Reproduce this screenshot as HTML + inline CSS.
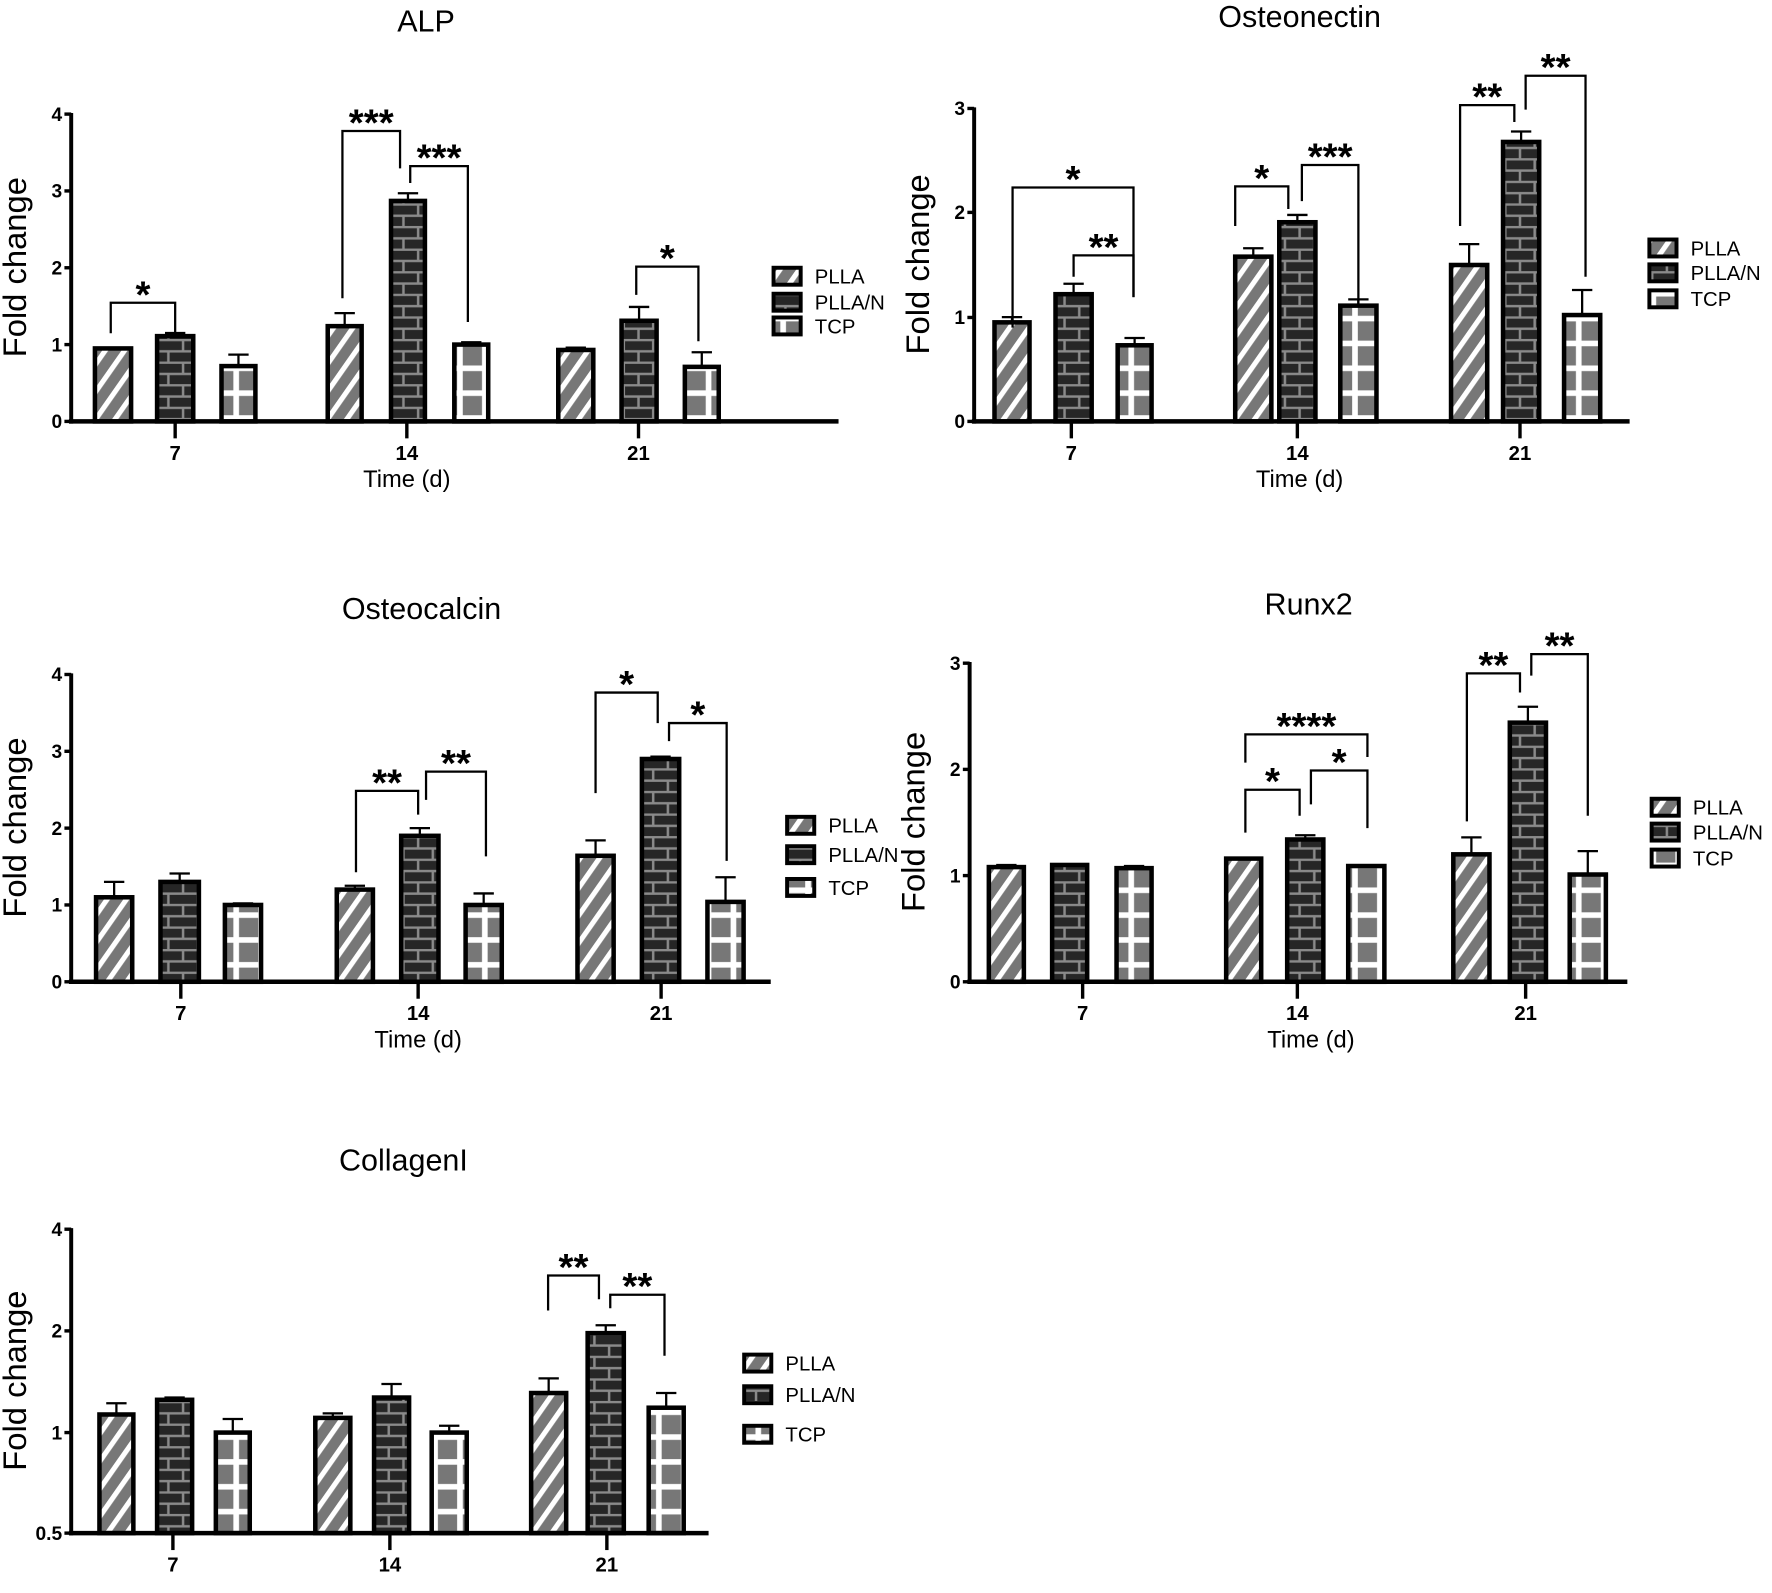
<!DOCTYPE html>
<html><head><meta charset="utf-8"><style>
html,body{margin:0;padding:0;background:#fff;}
svg{display:block;}
text{font-family:"Liberation Sans",Arial,sans-serif;fill:#000;}
</style></head><body>
<svg id="s" width="1772" height="1593" viewBox="0 0 1568 1410" preserveAspectRatio="none" xmlns="http://www.w3.org/2000/svg">
<defs>
<pattern id="diag" patternUnits="userSpaceOnUse" width="14" height="14" patternTransform="rotate(35)">
<rect width="14" height="14" fill="#777"/><rect x="0" width="4.5" height="14" fill="#fff"/></pattern>
<pattern id="brick" patternUnits="userSpaceOnUse" width="26" height="20">
<rect width="26" height="20" fill="#262626"/>
<path d="M0 1H26M0 11H26M6 1V11M19 11V20" stroke="#8a8a8a" stroke-width="2.2" fill="none"/></pattern>
<pattern id="tcp" patternUnits="userSpaceOnUse" width="22" height="22">
<rect width="22" height="22" fill="#777"/>
<path d="M11 0V22M0 18H22" stroke="#fff" stroke-width="5" fill="none"/></pattern>
</defs>
</svg>
<script>
var s=document.getElementById('s');var h='';
function T(x,y,t,sz,extra){h+='<text x="'+x+'" y="'+y+'" font-size="'+sz+'" text-anchor="middle" '+(extra||'')+'>'+t+'</text>';}
function L(d,w){h+='<path d="'+d+'" stroke="#000" stroke-width="'+(w||2)+'" fill="none"/>';}
var fills=['url(#diag)','url(#brick)','url(#tcp)'];
function panel(p){
 T(p.tx,p.ty,p.title,27);
 h+='<text x="0" y="0" font-size="29" text-anchor="middle" transform="translate('+(p.ax-40)+','+((p.y0+p.ytop)/2)+') rotate(-90)">Fold change</text>';
 p.bars.forEach(function(b){
  var x=b[0],w=b[1]-b[0],top=b[2],err=b[3],f=fills[b[4]];
  h+='<rect x="'+(x+2)+'" y="'+top+'" width="'+(w-4)+'" height="'+(p.y0-top)+'" fill="'+f+'" stroke="#000" stroke-width="4"/>';
  var c=x+w/2;
  if(err<top-1){L('M'+c+' '+top+'V'+err+'M'+(c-9)+' '+err+'H'+(c+9),2);}
 });
 L('M'+p.ax+' '+(p.ytop)+'V'+(p.y0+2),3.5);
 L('M'+(p.ax-2)+' '+p.y0+'H'+p.xend,4);
 p.ticks.forEach(function(t){L('M'+(p.ax-6)+' '+t[0]+'H'+p.ax,3);h+='<text x="'+(p.ax-8)+'" y="'+(t[0]+6)+'" font-size="17" font-weight="bold" text-anchor="end">'+t[1]+'</text>';});
 p.groups.forEach(function(g){L('M'+g[0]+' '+p.y0+'V'+(p.y0+15),3);T(g[0],p.y0+34,g[1],18,'font-weight="bold"');});
 if(p.time)T(p.gmid,p.y0+58,'Time (d)',21);
 p.br.forEach(function(b){
  L('M'+b[0]+' '+b[2]+'V'+b[1]+'H'+b[3]+'V'+b[4],2);
  T((b[0]+b[3])/2,b[1]+4,b[5],34,'font-weight="bold"');
 });
 var names=['PLLA','PLLA/N','TCP'];
 p.leg.forEach(function(y,i){
  h+='<rect x="'+(p.lx+1.5)+'" y="'+(y-8)+'" width="24" height="15" fill="'+fills[i]+'" stroke="#000" stroke-width="3.5"/>';
  h+='<text x="'+(p.lx+38)+'" y="'+(y+6)+'" font-size="18">'+names[i]+'</text>';
 });
}
function bars(y0,s,base,spec){return spec.map(function(b){return [b[0],b[1],base(b[2]),base(b[3]),b[4]];});}
var a=function(v){return 373-68*v;};
panel({title:'ALP',tx:377,ty:28,ax:63,y0:373,ytop:100,xend:742,time:1,gmid:360,
 ticks:[[373,0],[305,1],[237,2],[169,3],[101,4]],groups:[[155,'7'],[360,'14'],[565,'21']],
 bars:bars(373,0,a,[[82,118,0.95,0.96,0],[137,173,1.11,1.15,1],[194,228,0.72,0.87,2],[288,322,1.24,1.41,0],[344,378,2.87,2.97,1],[400,434,1.0,1.03,2],[492,527,0.93,0.96,0],[548,583,1.31,1.49,1],[604,638,0.71,0.90,2]]),
 br:[[98,268,295,155,298,'*'],[303,116,264,354,149,'***'],[363,147,162,414,285,'***'],[563,236,261,618,302,'*']],
 leg:[245,268,289],lx:683});
var o=function(v){return 373-92.3*v;};
panel({title:'Osteonectin',tx:1150,ty:24,ax:862,y0:373,ytop:95,xend:1442,time:1,gmid:1150,
 ticks:[[373,0],[281,1],[188,2],[96,3]],groups:[[948,'7'],[1148,'14'],[1345,'21']],
 bars:bars(373,0,o,[[878,913,0.95,1.0,0],[932,968,1.22,1.32,1],[987,1021,0.73,0.80,2],[1091,1127,1.58,1.66,0],[1130,1166,1.91,1.98,1],[1184,1220,1.11,1.17,2],[1282,1318,1.5,1.7,0],[1328,1364,2.68,2.78,1],[1382,1418,1.02,1.26,2]]),
 br:[[896,166,290,1003,263,'*'],[950,226,245,1003,263,'**'],[1093,165,200,1140,185,'*'],[1152,146,178,1202,270,'***'],[1292,93,200,1340,108,'**'],[1350,67,97,1403,245,'**']],
 leg:[220,242,265],lx:1458});
var c=function(v){return 869-68*v;};
panel({title:'Osteocalcin',tx:373,ty:548,ax:63,y0:869,ytop:596,xend:682,time:1,gmid:370,
 ticks:[[869,0],[801,1],[733,2],[665,3],[597,4]],groups:[[160,'7'],[370,'14'],[585,'21']],
 bars:bars(869,0,c,[[83,119,1.1,1.3,0],[140,178,1.3,1.41,1],[197,233,1.0,1.02,2],[296,332,1.2,1.25,0],[353,390,1.9,2.0,1],[410,446,1.0,1.15,2],[509,545,1.64,1.84,0],[566,603,2.9,2.93,1],[624,660,1.04,1.36,2]]),
 br:[[315,700,772,370,721,'**'],[377,683,708,430,758,'**'],[527,613,702,582,640,'*'],[592,640,656,643,762,'*']],
 leg:[731,757,786],lx:695});
var r=function(v){return 869-94*v;};
panel({title:'Runx2',tx:1158,ty:544,ax:858,y0:869,ytop:586,xend:1440,time:1,gmid:1160,
 ticks:[[869,0],[775,1],[681,2],[587,3]],groups:[[958,'7'],[1148,'14'],[1350,'21']],
 bars:bars(869,0,r,[[873,908,1.08,1.1,0],[929,964,1.1,1.11,1],[986,1021,1.07,1.09,2],[1083,1118,1.16,1.16,0],[1137,1173,1.34,1.38,1],[1191,1227,1.09,1.1,2],[1284,1320,1.2,1.36,0],[1334,1370,2.44,2.59,1],[1387,1423,1.01,1.23,2]]),
 br:[[1102,650,675,1210,670,'****'],[1102,699,737,1150,722,'*'],[1160,682,712,1210,733,'*'],[1298,596,727,1345,613,'**'],[1355,579,598,1405,722,'**']],
 leg:[715,737,760],lx:1460});
panel({title:'CollagenI',tx:357,ty:1036,ax:63,y0:1357,ytop:1087,xend:627,time:0,gmid:345,
 ticks:[[1357,'0.5'],[1268,'1'],[1178,'2'],[1088,'4']],groups:[[153,'7'],[345,'14'],[537,'21']],
 bars:[[86,120,1252,1242,0],[137,172,1239,1237,1],[189,223,1268,1256,2],[277,312,1255,1251,0],[329,364,1237,1225,1],[380,415,1268,1262,2],[468,503,1233,1220,0],[518,554,1180,1173,1],[572,607,1246,1233,2]],
 br:[[485,1129,1160,530,1150,'**'],[540,1146,1158,588,1200,'**']],
 leg:[1207,1235,1270],lx:657});
s.insertAdjacentHTML('beforeend',h);
</script>
</body></html>
